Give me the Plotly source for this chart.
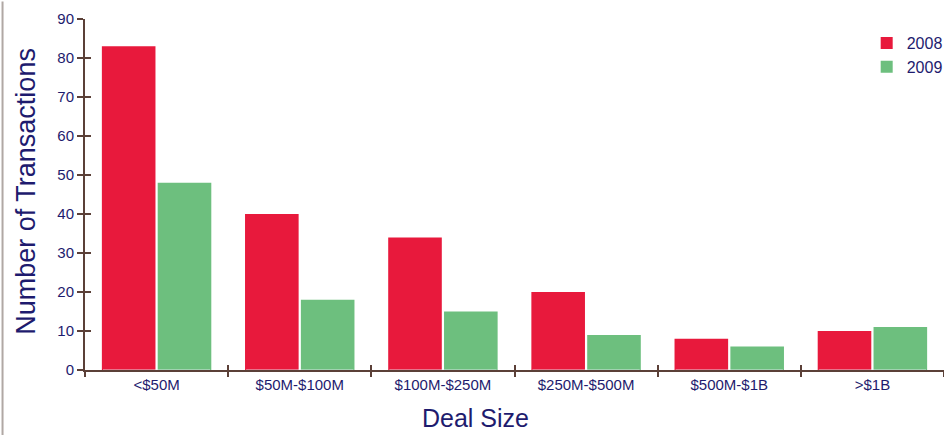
import plotly.graph_objects as go

categories = ["<$50M", "$50M-$100M", "$100M-$250M", "$250M-$500M", "$500M-$1B", ">$1B"]
values_2008 = [83, 40, 34, 20, 8, 10]
values_2009 = [48, 18, 15, 9, 6, 11]
y_ticks = [0, 10, 20, 30, 40, 50, 60, 70, 80, 90]

navy = "#1e1b6e"
axis_col = "#5b4038"
font = "Liberation Sans, Arial, sans-serif"

fig = go.Figure()
fig.add_trace(go.Bar(name="2008", x=categories, y=values_2008, marker_color="#E8193C",
                     marker_line_width=0))
fig.add_trace(go.Bar(name="2009", x=categories, y=values_2009, marker_color="#6DBF7E",
                     marker_line_width=0))

fig.update_layout(
    width=944, height=435,
    margin=dict(l=85, r=0, t=19, b=65, autoexpand=False),
    paper_bgcolor="white", plot_bgcolor="white",
    barmode="group", bargap=0.22, bargroupgap=0.04,
    font=dict(family=font, color=navy),
    showlegend=True,
    legend=dict(x=0.91, y=0.98, xanchor="left", yanchor="top",
                font=dict(size=16, color=navy), bgcolor="rgba(0,0,0,0)",
                itemwidth=30, tracegroupgap=2),
    xaxis=dict(
        showline=True, linecolor=axis_col, linewidth=2,
        tickson="boundaries", ticks="outside", ticklen=5, tickcolor=axis_col, tickwidth=2,
        tickfont=dict(size=15, color=navy),
        showgrid=False, zeroline=False,
    ),
    yaxis=dict(
        range=[0, 90], tickvals=y_ticks,
        showline=True, linecolor=axis_col, linewidth=2,
        ticks="outside", ticklen=6, tickcolor=axis_col, tickwidth=2,
        tickfont=dict(size=15, color=navy),
        showgrid=False, zeroline=False,
    ),
    yaxis2=dict(
        range=[0, 90], tickvals=y_ticks, overlaying="y", side="left",
        ticks="inside", ticklen=6, tickcolor=axis_col, tickwidth=2,
        showticklabels=False, showgrid=False, zeroline=False, showline=False,
    ),
    xaxis2=dict(
        overlaying="x", side="bottom", matches="x", tickson="boundaries",
        ticks="inside", ticklen=5, tickcolor=axis_col, tickwidth=2,
        showticklabels=False, showgrid=False, zeroline=False, showline=False,
    ),
)
# invisible helper trace to render inner tick halves
fig.add_trace(go.Bar(x=categories, y=[0]*len(categories), xaxis="x2", yaxis="y2",
                     showlegend=False, hoverinfo="skip", marker_color="rgba(0,0,0,0)"))

fig.add_annotation(text="Number of Transactions", xref="paper", yref="paper",
                   x=-0.069, y=0.51, xanchor="center", yanchor="middle", textangle=-90,
                   showarrow=False, font=dict(size=27, color=navy))
fig.add_annotation(text="Deal Size", xref="paper", yref="paper",
                   x=(475 - 85) / 859, y=-0.138, xanchor="center", yanchor="middle",
                   showarrow=False, font=dict(size=25, color=navy))

fig.add_shape(type="line", xref="paper", yref="paper", x0=-0.096, x1=-0.096, y0=-0.2, y1=1.05,
              line=dict(color="#b0a8a4", width=2))

fig.write_html("out.html")
